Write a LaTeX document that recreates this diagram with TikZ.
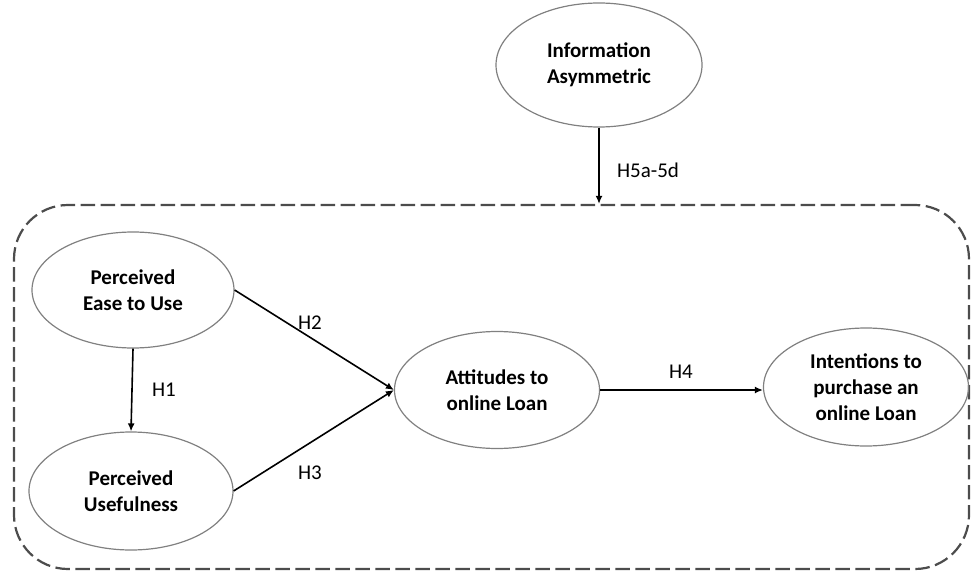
\documentclass[tikz,border=0pt]{standalone}
\usepackage{fontspec}
\setmainfont{Carlito}
\usetikzlibrary{shapes.geometric,arrows.meta}
\newlength{\du}
\setlength{\du}{0.5pt}
\definecolor{dialinecolor}{rgb}{0.000000, 0.000000, 0.000000}
\definecolor{diaellipsecolor}{rgb}{0.500000, 0.500000, 0.500000}
\definecolor{diadashcolor}{rgb}{0.300000, 0.300000, 0.300000}
\tikzset{
  construct/.style={ellipse,draw=diaellipsecolor,line width=1.2\du,inner sep=0pt,
    align=center,font=\bfseries\fontsize{10.5}{13}\selectfont},
  hyparrow/.style={draw=dialinecolor,line width=1.6\du,-{Latex[length=4pt,width=3.5pt]}},
  hyp/.style={font=\fontsize{10.5}{13}\selectfont,inner sep=0pt},
  frame/.style={draw=diadashcolor,dashed,dash pattern=on 7.2pt off 2.8pt,line width=2.2\du,
    rounded corners=27pt,inner sep=0pt}
}
\begin{document}
\begin{tikzpicture}
\useasboundingbox (0\du,0\du) rectangle (972\du,-572\du);
% moderating box
\node[frame,minimum width=955\du,minimum height=364\du] (frame) at (491.5\du,-387\du) {};
% constructs
\node[construct,minimum width=206\du,minimum height=124\du] (info) at (599\du,-65\du) {Information\\Asymmetric};
\node[construct,minimum width=202\du,minimum height=116\du] (peu) at (133\du,-290\du) {Perceived\\Ease to Use};
\node[construct,minimum width=204\du,minimum height=118\du] (pu) at (131\du,-491\du) {Perceived\\Usefulness};
\node[construct,minimum width=205\du,minimum height=117\du] (att) at (497\du,-390\du) {Attitudes to\\online Loan};
\node[construct,minimum width=205\du,minimum height=118\du] (int) at (866\du,-387\du) {Intentions to\\purchase an\\online Loan};
% hypotheses
\draw[hyparrow] (info.south) -- (info.south |- frame.north);
\draw[hyparrow] (peu.south) -- (pu.north);
\draw[hyparrow] (peu.east) -- (att.west);
\draw[hyparrow] (pu.east) -- (att.west);
\draw[hyparrow] (att.east) -- (att.east -| int.west);
\node[hyp] (h5) at (648\du,-170\du) {H5a-5d};
\node[hyp] (h1) at (164\du,-390\du) {H1};
\node[hyp] (h2) at (310\du,-323\du) {H2};
\node[hyp] (h3) at (310\du,-473\du) {H3};
\node[hyp] (h4) at (681\du,-372\du) {H4};
\end{tikzpicture}
\end{document}
